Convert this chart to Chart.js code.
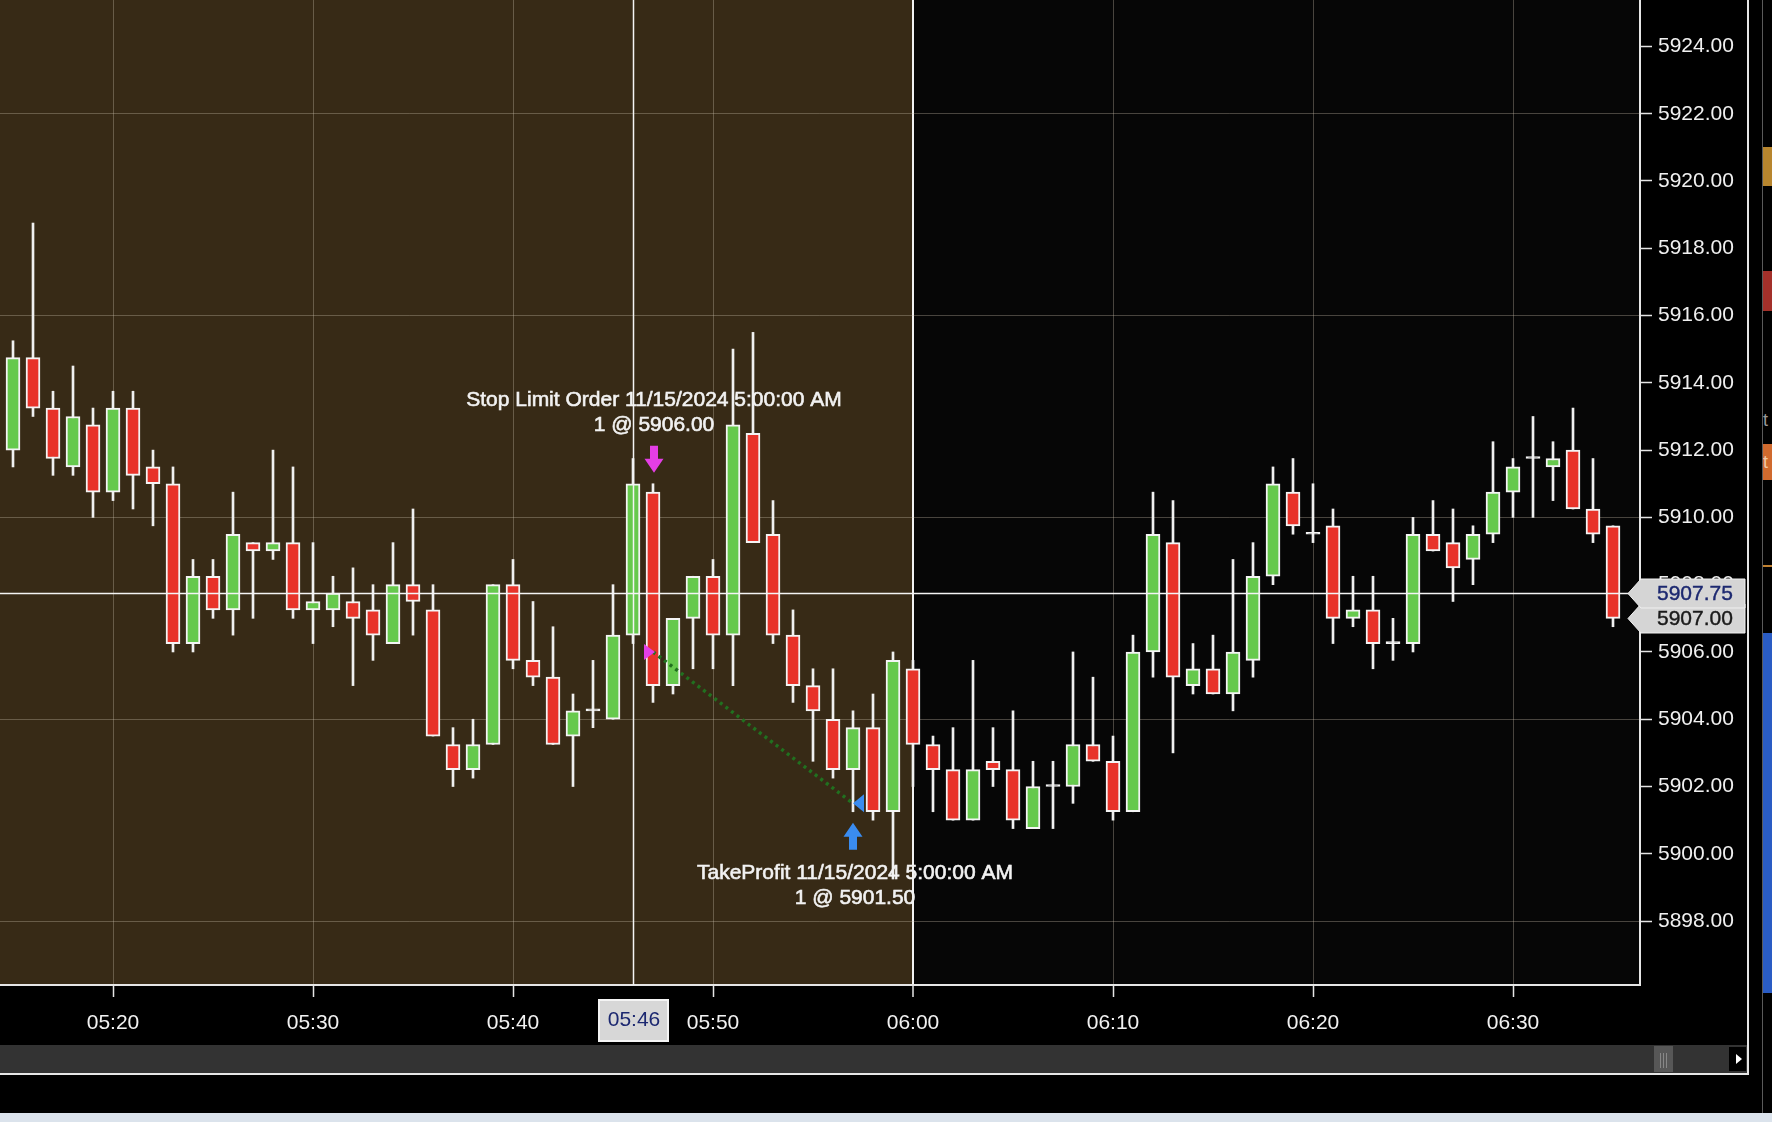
<!DOCTYPE html>
<html>
<head>
<meta charset="utf-8">
<script src="https://cdn.jsdelivr.net/npm/chart.js@4.4.1/dist/chart.umd.min.js"></script>
<style>
html,body{margin:0;padding:0;background:#000;width:1772px;height:1122px;overflow:hidden;}
.abs{position:absolute;}
#wrap{position:absolute;left:0;top:0;width:1748px;height:1045px;}
</style>
</head>
<body>
<div id="wrap"><canvas id="priceChart" width="1748" height="1045"></canvas></div>

<!-- scrollbar + frame -->
<div class="abs" style="left:0;top:1045px;width:1748px;height:28px;background:#333;"></div>
<div class="abs" style="left:1654px;top:1046px;width:19px;height:26px;background:#575757;"></div>
<div class="abs" style="left:1660px;top:1053px;width:1px;height:15px;background:#888;"></div>
<div class="abs" style="left:1663px;top:1053px;width:1px;height:15px;background:#888;"></div>
<div class="abs" style="left:1666px;top:1053px;width:1px;height:15px;background:#888;"></div>
<div class="abs" style="left:1729px;top:1047px;width:17px;height:24px;background:#000;"></div>
<div class="abs" style="left:1736px;top:1054px;width:0;height:0;border-left:6px solid #fff;border-top:5px solid transparent;border-bottom:5px solid transparent;"></div>
<div class="abs" style="left:0;top:1073px;width:1749px;height:2px;background:#e6e6e6;"></div>
<div class="abs" style="left:1747px;top:0;width:2px;height:1075px;background:#e6e6e6;"></div>

<!-- neighbouring panel on the right -->
<div class="abs" style="left:1762px;top:0;width:1px;height:1113px;background:#5a5a5a;"></div>
<div class="abs" style="left:1763px;top:147px;width:9px;height:39px;background:#b8862e;"></div>
<div class="abs" style="left:1763px;top:271px;width:9px;height:40px;background:#a3302a;"></div>
<div class="abs" style="left:1763px;top:408px;width:9px;height:24px;color:#999;font:18px 'Liberation Sans',Arial;line-height:24px;overflow:hidden;">t</div>
<div class="abs" style="left:1763px;top:444px;width:9px;height:36px;background:#d06a2e;color:#f0c8a8;font:18px 'Liberation Sans',Arial;line-height:36px;overflow:hidden;">t</div>
<div class="abs" style="left:1763px;top:565px;width:9px;height:2px;background:#c08030;"></div>
<div class="abs" style="left:1763px;top:633px;width:9px;height:360px;background:#2a5cc4;"></div>
<div class="abs" style="left:0;top:1113px;width:1772px;height:9px;background:#dbe3ec;"></div>

<script>
// 1-minute bars, 05:15 .. 06:35
const times = ['05:15','05:16','05:17','05:18','05:19','05:20','05:21','05:22','05:23','05:24',
  '05:25','05:26','05:27','05:28','05:29','05:30','05:31','05:32','05:33','05:34',
  '05:35','05:36','05:37','05:38','05:39','05:40','05:41','05:42','05:43','05:44',
  '05:45','05:46','05:47','05:48','05:49','05:50','05:51','05:52','05:53','05:54',
  '05:55','05:56','05:57','05:58','05:59','06:00','06:01','06:02','06:03','06:04',
  '06:05','06:06','06:07','06:08','06:09','06:10','06:11','06:12','06:13','06:14',
  '06:15','06:16','06:17','06:18','06:19','06:20','06:21','06:22','06:23','06:24',
  '06:25','06:26','06:27','06:28','06:29','06:30','06:31','06:32','06:33','06:34','06:35'];
const opens = [5912,5914.75,5913.25,5911.5,5912.75,5910.75,5913.25,5911.5,5911,5906.25,
  5908.25,5907.25,5909.25,5909,5909.25,5907.25,5907.25,5907.5,5907.25,5906.25,
  5908,5907.25,5903.25,5902.5,5903.25,5908,5905.75,5905.25,5903.5,5904.25,
  5904,5906.5,5910.75,5905,5907,5908.25,5906.5,5912.5,5909.5,5906.5,
  5905,5904,5902.5,5903.75,5901.25,5905.5,5903.25,5902.5,5901,5902.75,
  5902.5,5900.75,5902,5902,5903.25,5902.75,5901.25,5906,5909.25,5905,
  5905.5,5904.75,5905.75,5908.25,5910.75,5909.5,5909.75,5907,5907.25,5906.25,
  5906.25,5909.5,5909.25,5908.75,5909.5,5910.75,5911.75,5911.5,5912,5910.25,5909.75];
const highs = [5915.25,5918.75,5913.75,5914.5,5913.25,5913.75,5913.75,5912,5911.5,5908.75,
  5908.75,5910.75,5909.25,5912,5911.5,5909.25,5908.25,5908.5,5908,5909.25,
  5910.25,5908,5903.75,5904,5908,5908.75,5907.5,5906.75,5904.75,5905.75,
  5908,5911.75,5911,5907,5908.25,5908.75,5915,5915.5,5910.5,5907.25,
  5905.5,5905.5,5904.25,5904.75,5906,5905.75,5903.5,5903.75,5905.75,5903.75,
  5904.25,5902.75,5902.75,5906,5905.25,5903.5,5906.5,5910.75,5910.5,5906.25,
  5906.5,5908.75,5909.25,5911.5,5911.75,5911,5910.25,5908.25,5908.25,5907,
  5910,5910.5,5910.25,5909.75,5912.25,5911.75,5913,5912.25,5913.25,5911.75,5909.75];
const lows = [5911.5,5913,5911.25,5911.25,5910,5910.5,5910.25,5909.75,5906,5906,
  5907,5906.5,5907,5908.75,5907,5906.25,5906.75,5905,5905.75,5906.25,
  5906.5,5903.5,5902,5902.25,5903.25,5905.5,5905,5903.25,5902,5903.75,
  5904,5906.25,5904.5,5904.75,5905.5,5905.5,5905,5909.25,5906.25,5904.5,
  5902.75,5902.25,5901.25,5901,5899.25,5902,5901.25,5901,5901,5902,
  5900.75,5900.75,5900.75,5901.5,5902.75,5901,5901.25,5905.25,5903,5904.75,
  5904.75,5904.25,5905.25,5908,5909.5,5909.25,5906.25,5906.75,5905.5,5905.75,
  5906,5909,5907.5,5908,5909.25,5910,5910,5910.5,5910.25,5909.25,5906.75];
const closes = [5914.75,5913.25,5911.75,5913,5910.75,5913.25,5911.25,5911,5906.25,5908.25,
  5907.25,5909.5,5909,5909.25,5907.25,5907.5,5907.75,5907,5906.5,5908,
  5907.5,5903.5,5902.5,5903.25,5908,5905.75,5905.25,5903.25,5904.25,5904.25,
  5906.5,5911,5905,5907,5908.25,5906.5,5912.75,5909.25,5906.5,5905,
  5904.25,5902.5,5903.75,5901.25,5905.75,5903.25,5902.5,5901,5902.5,5902.5,
  5901,5902,5902,5903.25,5902.75,5901.25,5906,5909.5,5905.25,5905.5,
  5904.75,5906,5908.25,5911,5909.75,5909.5,5907,5907.25,5906.25,5906.25,
  5909.5,5909,5908.5,5909.5,5910.75,5911.5,5911.75,5911.75,5910.25,5909.5,5907];

const xTickLabels = ['05:20','05:30','05:40','05:50','06:00','06:10','06:20','06:30'];
const yTicks = [5898,5900,5902,5904,5906,5908,5910,5912,5914,5916,5918,5920,5922,5924];
const sessionStart = '06:00';
const crossTime = '05:46';
const crossPrice = 5907.75;

// trade: entry and exit
const orderTimes = ['05:47','05:57'];
const orderPrices = [5906.00, 5901.50];
const orderQty = [1, 1];
const orderNames = ['Stop Limit Order 11/15/2024 5:00:00 AM', 'TakeProfit 11/15/2024 5:00:00 AM'];

const FONT = '"Liberation Sans", Arial, sans-serif';
const toMin = s => { const p = s.split(':').map(Number); return (p[0]-5)*60 + p[1]; };
const fmt = v => { const h = 5 + Math.floor(v/60), m = Math.round(v % 60); return String(h).padStart(2,'0') + ':' + String(m).padStart(2,'0'); };
const gridCol = 'rgba(205,195,175,0.33)';

const bodyColor = i => closes[i] > opens[i] ? '#66c94c' : (closes[i] < opens[i] ? '#e8332a' : '#f2f2f2');

function arrow(ctx, cx, tipY, dir, color){
  // dir = 1 points down, -1 points up
  const len = 27, head = 14, hw = 9.5, sw = 4;
  const baseY = tipY - dir*len, neckY = tipY - dir*head;
  ctx.fillStyle = color;
  ctx.beginPath();
  ctx.moveTo(cx - sw, baseY); ctx.lineTo(cx + sw, baseY);
  ctx.lineTo(cx + sw, neckY); ctx.lineTo(cx + hw, neckY);
  ctx.lineTo(cx, tipY); ctx.lineTo(cx - hw, neckY);
  ctx.lineTo(cx - sw, neckY); ctx.closePath(); ctx.fill();
}

// slightly heavier text, closer to the ClearType look of the original
function heavyText(ctx, txt, x, y, w){
  ctx.lineWidth = w || 0.6; ctx.strokeStyle = ctx.fillStyle;
  ctx.strokeText(txt, x, y); ctx.fillText(txt, x, y);
}

const bgPlugin = {
  id: 'bg',
  beforeDraw(chart){
    const {ctx, chartArea: a, scales: {x}} = chart;
    ctx.save();
    ctx.fillStyle = '#000'; ctx.fillRect(0, 0, chart.width, chart.height);
    ctx.fillStyle = '#060606'; ctx.fillRect(a.left, a.top, a.width, a.height);
    const xs = x.getPixelForValue(toMin(sessionStart));
    ctx.fillStyle = '#372a16'; ctx.fillRect(a.left, a.top, xs - a.left, a.height);
    ctx.restore();
  }
};

const overlayPlugin = {
  id: 'overlay',
  afterDatasetsDraw(chart){
    const {ctx, chartArea: a, scales: {x, y}} = chart;
    ctx.save();
    // crosshair
    ctx.strokeStyle = '#f4f4f4'; ctx.lineWidth = 1.5;
    const cxp = Math.round(x.getPixelForValue(toMin(crossTime))) + 0.5;
    const cyp = Math.round(y.getPixelForValue(crossPrice)) + 0.5;
    ctx.beginPath(); ctx.moveTo(cxp, a.top); ctx.lineTo(cxp, a.bottom); ctx.stroke();
    ctx.beginPath(); ctx.moveTo(a.left, cyp); ctx.lineTo(a.right, cyp); ctx.stroke();

    // entry markers
    const ei = times.indexOf(orderTimes[0]);
    const ex = x.getPixelForValue(toMin(orderTimes[0]));
    const ey = y.getPixelForValue(orderPrices[0]);
    ctx.fillStyle = '#e43ee6';
    ctx.beginPath(); ctx.moveTo(ex - 9, ey - 8); ctx.lineTo(ex + 2, ey); ctx.lineTo(ex - 9, ey + 8); ctx.closePath(); ctx.fill();
    const eTip = y.getPixelForValue(highs[ei]) - 11;
    arrow(ctx, ex + 1, eTip, 1, '#e43ee6');
    ctx.fillStyle = '#f2f2f2';
    ctx.font = '21px ' + FONT;
    ctx.textAlign = 'center'; ctx.textBaseline = 'middle';
    const eTop = eTip - 27;
    heavyText(ctx, orderQty[0] + ' @ ' + orderPrices[0].toFixed(2), ex + 1, eTop - 21);
    heavyText(ctx, orderNames[0], ex + 1, eTop - 46);

    // exit markers
    const xi = times.indexOf(orderTimes[1]);
    const xx = x.getPixelForValue(toMin(orderTimes[1]));
    const xy = y.getPixelForValue(orderPrices[1]);
    ctx.fillStyle = '#3a8cf0';
    ctx.beginPath(); ctx.moveTo(xx + 11, xy - 9); ctx.lineTo(xx, xy); ctx.lineTo(xx + 11, xy + 9); ctx.closePath(); ctx.fill();
    const xTip = y.getPixelForValue(lows[xi]) + 11;
    arrow(ctx, xx, xTip, -1, '#3a8cf0');
    ctx.fillStyle = '#f2f2f2';
    const xBot = xTip + 27;
    heavyText(ctx, orderNames[1], xx + 2, xBot + 23);
    heavyText(ctx, orderQty[1] + ' @ ' + orderPrices[1].toFixed(2), xx + 2, xBot + 48);
    ctx.restore();
  },
  afterDraw(chart){
    const {ctx, chartArea: a, scales: {x, y}} = chart;
    ctx.save();
    const tag = (price, color) => {
      const py = Math.round(y.getPixelForValue(price)) + 0.5;
      ctx.fillStyle = '#d5d5d5'; ctx.strokeStyle = '#f0f0f0'; ctx.lineWidth = 1;
      ctx.beginPath();
      ctx.moveTo(a.right - 12, py); ctx.lineTo(a.right + 1, py - 14.5);
      ctx.lineTo(1745, py - 14.5); ctx.lineTo(1745, py + 14.5);
      ctx.lineTo(a.right + 1, py + 14.5); ctx.closePath(); ctx.fill(); ctx.stroke();
      ctx.fillStyle = color; ctx.font = '21px ' + FONT;
      ctx.textAlign = 'left'; ctx.textBaseline = 'middle';
      heavyText(ctx, price.toFixed(2), a.right + 17, py + 1, 0.4);
    };
    tag(closes[closes.length - 1], '#1a1a1a');
    tag(crossPrice, '#1c2870');

    // time label of the crosshair
    const bx = x.getPixelForValue(toMin(crossTime));
    ctx.fillStyle = '#d7d7d7'; ctx.strokeStyle = '#f4f4f4'; ctx.lineWidth = 2;
    ctx.fillRect(bx - 34, 1000, 69, 41); ctx.strokeRect(bx - 34, 1000, 69, 41);
    ctx.fillStyle = '#1c2870'; ctx.font = '21px ' + FONT;
    ctx.textAlign = 'center'; ctx.textBaseline = 'middle';
    ctx.fillText(crossTime, bx + 1, 1020);
    ctx.restore();
  }
};

const ctx = document.getElementById('priceChart').getContext('2d');
const priceChart = new Chart(ctx, {
  type: 'bar',
  data: {
    datasets: [
      {
        label: 'bodies',
        data: times.map((t, i) => ({x: toMin(t), y: [opens[i], closes[i]]})),
        backgroundColor: c => bodyColor(c.dataIndex),
        borderColor: '#f4f4f4',
        borderWidth: 2,
        borderSkipped: false,
        barThickness: 14,
        minBarLength: 2,
        grouped: false,
        order: 1
      },
      {
        label: 'wicks',
        data: times.map((t, i) => ({x: toMin(t), y: [lows[i], highs[i]]})),
        backgroundColor: '#f0f0f0',
        borderWidth: 0,
        barThickness: 2,
        grouped: false,
        order: 2
      },
      {
        type: 'line',
        label: 'trade',
        data: orderTimes.map((t, i) => ({x: toMin(t), y: orderPrices[i]})),
        borderColor: '#21701f',
        borderWidth: 3.5,
        borderDash: [3, 4],
        pointRadius: 0,
        fill: false,
        order: 0
      }
    ]
  },
  options: {
    responsive: false,
    animation: false,
    layout: {padding: 0},
    plugins: {legend: {display: false}, tooltip: {enabled: false}},
    scales: {
      x: {
        type: 'linear',
        min: 14.35, max: 96.35,
        offset: false,
        afterBuildTicks: s => { s.ticks = xTickLabels.map(l => ({value: toMin(l)})); },
        afterFit: s => { s.height = 60; s.paddingLeft = 0; s.paddingRight = 0; },
        ticks: {callback: v => fmt(v), color: '#f2f2f2', font: {family: FONT, size: 21}, padding: 14, maxRotation: 0, autoSkip: false},
        grid: {
          offset: false,
          color: c => (c.tick && c.tick.value === toMin(sessionStart)) ? '#f2f2f2' : gridCol,
          lineWidth: c => (c.tick && c.tick.value === toMin(sessionStart)) ? 2 : 1,
          tickColor: '#e6e6e6', tickLength: 12, tickWidth: 1.5
        },
        border: {display: true, color: '#e6e6e6', width: 2}
      },
      y: {
        position: 'right',
        min: 5896.10, max: 5925.38,
        afterBuildTicks: s => { s.ticks = yTicks.map(v => ({value: v})); },
        afterFit: s => { s.width = 108; s.paddingTop = 0; s.paddingBottom = 0; },
        ticks: {callback: v => Number(v).toFixed(2), color: '#f0f0f0', font: {family: FONT, size: 21}, padding: 6},
        grid: {
          color: c => (c.tick && c.tick.value % 6 === 0) ? gridCol : 'rgba(0,0,0,0)',
          tickColor: '#e6e6e6', tickLength: 12, tickWidth: 1.5
        },
        border: {display: true, color: '#e6e6e6', width: 2}
      }
    }
  },
  plugins: [bgPlugin, overlayPlugin]
});
</script>
</body>
</html>
